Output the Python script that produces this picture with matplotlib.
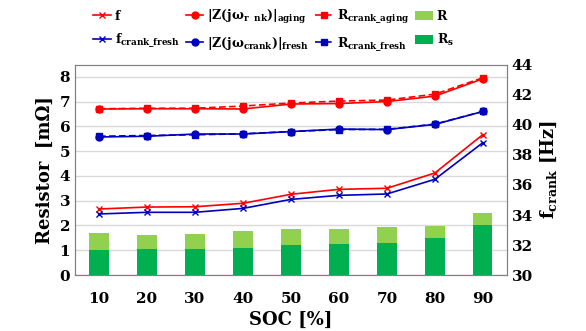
import matplotlib.pyplot as plt
import numpy as np

plt.rcParams['font.family'] = ['DejaVu Serif']
plt.rcParams['font.weight'] = 'bold'
plt.rcParams['mathtext.fontset'] = 'custom'
plt.rcParams['mathtext.rm'] = 'DejaVu Serif:bold'
plt.rcParams['mathtext.it'] = 'DejaVu Serif:bold'
plt.rcParams['mathtext.bf'] = 'DejaVu Serif:bold'

soc = [10, 20, 30, 40, 50, 60, 70, 80, 90]

# bars, left axis [mOhm]
r_total = [1.71, 1.63, 1.66, 1.77, 1.86, 1.87, 1.95, 1.99, 2.50]
r_s = [1.01, 1.05, 1.05, 1.10, 1.21, 1.26, 1.28, 1.48, 2.00]

# lines, left axis [mOhm]
z_aging = [6.70, 6.71, 6.71, 6.70, 6.90, 6.92, 7.00, 7.22, 7.92]
r_crank_aging = [6.71, 6.73, 6.73, 6.82, 6.94, 7.02, 7.06, 7.30, 7.96]
z_fresh = [5.57, 5.60, 5.69, 5.69, 5.79, 5.89, 5.87, 6.08, 6.60]
r_crank_fresh = [5.60, 5.63, 5.66, 5.70, 5.79, 5.87, 5.88, 6.09, 6.60]

# lines, right axis [Hz]
f_aging = [34.40, 34.53, 34.55, 34.78, 35.38, 35.71, 35.78, 36.80, 39.36]
f_fresh = [34.07, 34.18, 34.18, 34.44, 35.04, 35.31, 35.40, 36.38, 38.82]

red = '#FF0000'
blue = '#0000C0'
x = np.arange(len(soc))

fig = plt.figure(figsize=(5.86, 3.31), dpi=100)
ax = fig.add_axes([0.128, 0.169, 0.737, 0.635])
ax2 = ax.twinx()

hR = ax.bar(x, r_total, width=0.4, color='#92D050', label='R', zorder=2)
hRs = ax.bar(x, r_s, width=0.4, color='#00B050', label='R$_\\mathregular{s}$', zorder=3)

hZa, = ax.plot(x, z_aging, color=red, marker='o', ms=5, lw=1.2,
               label='$|$Z(j$\\omega_{\\mathregular{r\\ \\ nk}}$)$|_{\\mathregular{aging}}$', zorder=5)
hRa, = ax.plot(x, r_crank_aging, color=red, marker='s', ms=5, lw=1.2, ls=(0, (4, 2)),
               label='R$_{\\mathregular{crank\\_aging}}$', zorder=5)
hZf, = ax.plot(x, z_fresh, color=blue, marker='o', ms=5, lw=1.2,
               label='$|$Z(j$\\omega_{\\mathregular{crank}}$)$|_{\\mathregular{fresh}}$', zorder=5)
hRf, = ax.plot(x, r_crank_fresh, color=blue, marker='s', ms=5, lw=1.2, ls=(0, (4, 2)),
               label='R$_{\\mathregular{crank\\_fresh}}$', zorder=5)

hFa, = ax2.plot(x, f_aging, color=red, marker='x', ms=5, lw=1.2, label='f')
hFf, = ax2.plot(x, f_fresh, color=blue, marker='x', ms=5, lw=1.2,
                label='f$_{\\mathregular{crank\\_fresh}}$')

ax.set_xlim(-0.5, 8.5)
ax.set_ylim(0, 8.48)
ax.set_yticks(range(0, 9))
ax2.set_ylim(30, 44)
ax2.set_yticks(range(30, 45, 2))
ax.set_xticks(x)
ax.set_xticklabels(soc)
ax.grid(axis='y', color='#D9D9D9', lw=1, zorder=0)
ax.set_axisbelow(True)
for a in (ax, ax2):
    a.tick_params(length=0, labelsize=11)
    for s in a.spines.values():
        s.set_color('#808080')
ax.tick_params(axis='x', pad=12)

ax.set_xlabel('SOC [%]', fontsize=13, fontweight='bold', labelpad=4)
ax.set_ylabel('Resistor  [m\u03a9]', fontsize=13, fontweight='bold')
ax2.set_ylabel('f$_{\\mathregular{crank}}$ [Hz]', fontsize=13, fontweight='bold')

handles = [hFa, hFf, hZa, hZf, hRa, hRf, hR, hRs]
fig.legend(handles=handles, loc='upper left', bbox_to_anchor=(0.14, 1.01), ncol=4,
           frameon=False, fontsize=9, handlelength=1.4, handletextpad=0.3,
           columnspacing=0.5, labelspacing=0.7)

fig.savefig('out.png', dpi=100)
